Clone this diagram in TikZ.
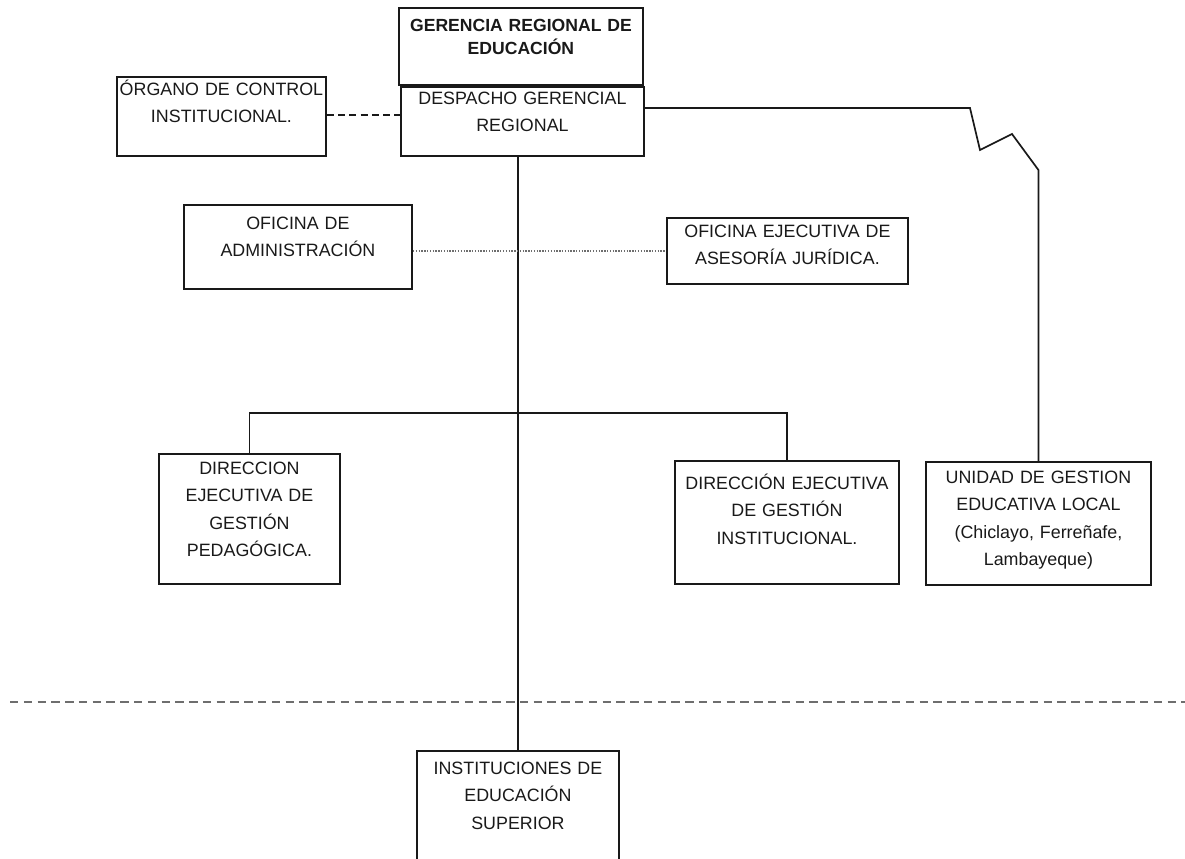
\documentclass[tikz,border=0pt]{standalone}
\usepackage{fontspec}
\setmainfont{Liberation Sans}
\usepackage{tikz}
\usetikzlibrary{positioning}
\definecolor{inkgray}{RGB}{25, 25, 25}
\definecolor{rulegray}{RGB}{110, 110, 110}
\newcommand{\orgfont}{\fontsize{12.7pt}{19.5pt}\selectfont}
\newcommand{\headfont}{\fontsize{12.5pt}{16.3pt}\selectfont\bfseries}
\tikzset{
  orgbox/.style={draw=inkgray, line width=1.3pt, text=inkgray, anchor=north west,
    align=center, inner xsep=0pt, inner ysep=0pt, font=\orgfont},
  link/.style={draw=inkgray, line width=1.2pt},
}

\begin{document}
\begin{tikzpicture}[x=0.025cm, y=-0.025cm]
  \useasboundingbox (0,0) rectangle (1185,858);
  % head of the organisation
  \node[orgbox, font=\headfont, text width=6.1cm, text height=0.6cm, text depth=1.325cm] (gerencia) at (398,7) {GERENCIA REGIONAL DE\\EDUCACIÓN};
  \node[orgbox, text width=6.075cm, text height=0.4375cm, text depth=1.2875cm] (despacho) at (400,86) {DESPACHO GERENCIAL\\REGIONAL};
  \node[orgbox, text width=5.225cm, text height=0.4625cm, text depth=1.5125cm] (organo) at (116,76) {ÓRGANO DE CONTROL\\INSTITUCIONAL.};
  % support offices
  \node[orgbox, text width=5.7cm, text height=0.6125cm, text depth=1.4875cm] (admin) at (183,204) {OFICINA DE\\ADMINISTRACIÓN};
  \node[orgbox, text width=6.025cm, text height=0.4875cm, text depth=1.1625cm] (juridica) at (666,217) {OFICINA EJECUTIVA DE\\ASESORÍA JURÍDICA.};
  % line offices
  \node[orgbox, text width=4.525cm, text height=0.5125cm, text depth=2.7375cm] (pedagogica) at (158,453) {DIRECCION\\EJECUTIVA DE\\GESTIÓN\\PEDAGÓGICA.};
  \node[orgbox, text width=5.6cm, text height=0.7125cm, text depth=2.3625cm] (institucional) at (674,460) {DIRECCIÓN EJECUTIVA\\DE GESTIÓN\\INSTITUCIONAL.};
  \node[orgbox, text width=5.625cm, text height=0.5375cm, text depth=2.5375cm] (ugel) at (925,461) {UNIDAD DE GESTION\\EDUCATIVA LOCAL\\(Chiclayo, Ferreñafe,\\Lambayeque)};
  \node[orgbox, text width=5.05cm, text height=0.5875cm, text depth=2.2cm] (superior) at (416,750) {INSTITUCIONES DE\\EDUCACIÓN\\SUPERIOR};

  % connectors
  \draw[link, dash pattern=on 5pt off 3pt] (organo.east |- 0,115) -- (despacho.west |- 0,115);
  \draw[link] (superior.north |- despacho.south) -- (superior.north);
  \draw[link, rulegray, line width=1pt, densely dotted] (admin.east |- juridica.west) -- (juridica.west);
  \draw[link] (pedagogica.north) -- ++(0,-40) -| (institucional.north);
  \draw[link] (despacho.north east) ++(0,22) -- (970,108) -- (980,150) -- (1012,134) -- (ugel.north |- 0,170) -- (ugel.north);
  % level separator
  \draw[rulegray, line width=1.4pt, dash pattern=on 6pt off 3.8pt] (10,702) -- (1185,702);
\end{tikzpicture}
\end{document}
